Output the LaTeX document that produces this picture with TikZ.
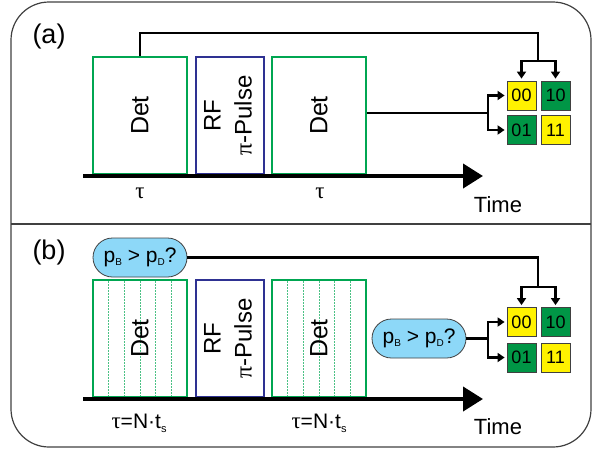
\documentclass[tikz,border=0pt]{standalone}
\usepackage{fontspec}
\setmainfont{Liberation Sans}
\newfontfamily\greekfont{Liberation Serif}
\usepackage{tikz}
\usetikzlibrary{shapes,arrows}
\usetikzlibrary{arrows.meta}

\definecolor{detgreen}{RGB}{0,166,81}
\definecolor{rfblue}{RGB}{46,49,146}
\definecolor{bityellow}{RGB}{255,242,0}
\definecolor{bitgreen}{RGB}{0,150,70}
\definecolor{bubblue}{RGB}{141,216,248}
\definecolor{framegray}{RGB}{64,64,64}

\newcommand{\fsz}[1]{\fontsize{#1}{#1}\selectfont}

\begin{document}
\begin{tikzpicture}[x=1pt,y=-1pt,
	detbox/.style={draw=detgreen,line width=1.2pt,minimum width=94pt,minimum height=117pt,inner sep=0pt},
	rfbox/.style={draw=rfblue,line width=1.2pt,minimum width=68pt,minimum height=117pt,inner sep=0pt},
	slice/.style={draw=detgreen!70,line width=0.9pt,dash pattern=on 1.5pt off 1.5pt},
	bitbox/.style={draw=framegray,line width=0.8pt,minimum size=29pt,inner sep=0pt,font=\fsz{18}},
	bubble/.style={rounded rectangle,draw=framegray,line width=0.8pt,fill=bubblue,minimum width=94pt,minimum height=39pt,inner sep=0pt,font=\fsz{21}},
	wire/.style={line width=2.5pt},
	bitarrow/.style={wire,-{Triangle[length=7pt,width=9pt]},shorten >=2pt},
	timeaxis/.style={line width=4pt,-{Triangle[length=20pt,width=24pt]}},
	frame/.style={draw=framegray,line width=1.2pt}]
	
	\useasboundingbox (0,0) rectangle (593,450);
	
	% Draw frame
	\draw[frame,rounded corners=38pt] (11,2) rectangle (591,447);
	\draw[frame] (11,224) -- (591,224);
	
	% Panel labels
	\node[font=\fsz{27}] (lbla) at (49,37) {(a)};
	\node[font=\fsz{27}] (lblb) at (49,253) {(b)};
	
	%%%% Panel (a)
	
	% Pulse boxes
	\node[detbox] (deta1) at (140,115.5) {};
	\node[rfbox] (rfa) at (230,115.5) {};
	\node[detbox] (deta2) at (319,115.5) {};
	\node[rotate=90,font=\fsz{25}] (deta1txt) at (deta1) {Det};
	\node[rotate=90,font=\fontsize{24}{31}\selectfont,align=center] (rfatxt) at (228,115.5) {RF\\{\greekfont π}-Pulse};
	\node[rotate=90,font=\fsz{25}] (deta2txt) at (deta2) {Det};
	
	% Time axis
	\coordinate (axa0) at (83,176);
	\coordinate (axa1) at (483,176);
	\draw[timeaxis] (axa0) -- (axa1);
	\node[font=\fsz{23}] (taua1) at (140,193) {\greekfont τ};
	\node[font=\fsz{23}] (taua2) at (320,193) {\greekfont τ};
	\node[font=\fsz{22}] (timea) at (498,205) {Time};
	
	% Result squares
	\node[bitbox,fill=bityellow] (a00) at (521.5,95.5) {00};
	\node[bitbox,fill=bitgreen] (a10) at (555.5,95.5) {10};
	\node[bitbox,fill=bitgreen] (a01) at (521.5,130) {01};
	\node[bitbox,fill=bityellow] (a11) at (555.5,130) {11};
	
	% First detection to first bit
	\coordinate (topa) at (538,33);
	\coordinate (splita) at (538,61);
	\draw[wire] (deta1.north) |- (topa) -- (splita);
	\draw[bitarrow] (splita) -| (a00);
	\draw[bitarrow] (splita) -| (a10);
	
	% Second detection to second bit
	\coordinate (joina) at (488,113);
	\draw[wire] (deta2.east |- joina) -- (joina);
	\draw[bitarrow] (joina) |- (a00);
	\draw[bitarrow] (joina) |- (a01);
	
	%%%% Panel (b)
	
	% Pulse boxes
	\node[detbox] (detb1) at (140,338.5) {};
	\node[rfbox] (rfb) at (230,338.5) {};
	\node[detbox] (detb2) at (319,338.5) {};
	\foreach \k in {1,...,5} {
		\draw[slice] (93+\k*15.67,281) -- (93+\k*15.67,396);
		\draw[slice] (272+\k*15.67,281) -- (272+\k*15.67,396);
	}
	\node[rotate=90,font=\fsz{25}] (detb1txt) at (detb1) {Det};
	\node[rotate=90,font=\fontsize{24}{31}\selectfont,align=center] (rfbtxt) at (228,338.5) {RF\\{\greekfont π}-Pulse};
	\node[rotate=90,font=\fsz{25}] (detb2txt) at (detb2) {Det};
	
	% Time axis
	\coordinate (axb0) at (83,399);
	\coordinate (axb1) at (483,399);
	\draw[timeaxis] (axb0) -- (axb1);
	\node[font=\fsz{21}] (taub1) at (139,423) {{\greekfont\fsz{23}τ}=N·t\raisebox{-4pt}{\fsz{11}s}};
	\node[font=\fsz{21}] (taub2) at (319,423) {{\greekfont\fsz{23}τ}=N·t\raisebox{-4pt}{\fsz{11}s}};
	\node[font=\fsz{22}] (timeb) at (498,427) {Time};
	
	% Threshold bubbles
	\node[bubble] (bubb1) at (140,257.5) {p\raisebox{-3pt}{\fsz{10}B} > p\raisebox{-3pt}{\fsz{10}D}?};
	\node[bubble] (bubb2) at (419,338.5) {p\raisebox{-3pt}{\fsz{10}B} > p\raisebox{-3pt}{\fsz{10}D}?};
	
	% Result squares
	\node[bitbox,fill=bityellow] (b00) at (521.5,322) {00};
	\node[bitbox,fill=bitgreen] (b10) at (555.5,322) {10};
	\node[bitbox,fill=bitgreen] (b01) at (521.5,357.5) {01};
	\node[bitbox,fill=bityellow] (b11) at (555.5,357.5) {11};
	
	% First decision to first bit
	\coordinate (topb) at (538,257.5);
	\coordinate (splitb) at (538,287);
	\draw[wire] (bubb1.east) -- (topb) -- (splitb);
	\draw[bitarrow] (splitb) -| (b00);
	\draw[bitarrow] (splitb) -| (b10);
	
	% Second decision to second bit
	\coordinate (joinb) at (488,338.5);
	\draw[wire] (bubb2.east) -- (joinb);
	\draw[bitarrow] (joinb) |- (b00);
	\draw[bitarrow] (joinb) |- (b01);
	
\end{tikzpicture}
\end{document}
